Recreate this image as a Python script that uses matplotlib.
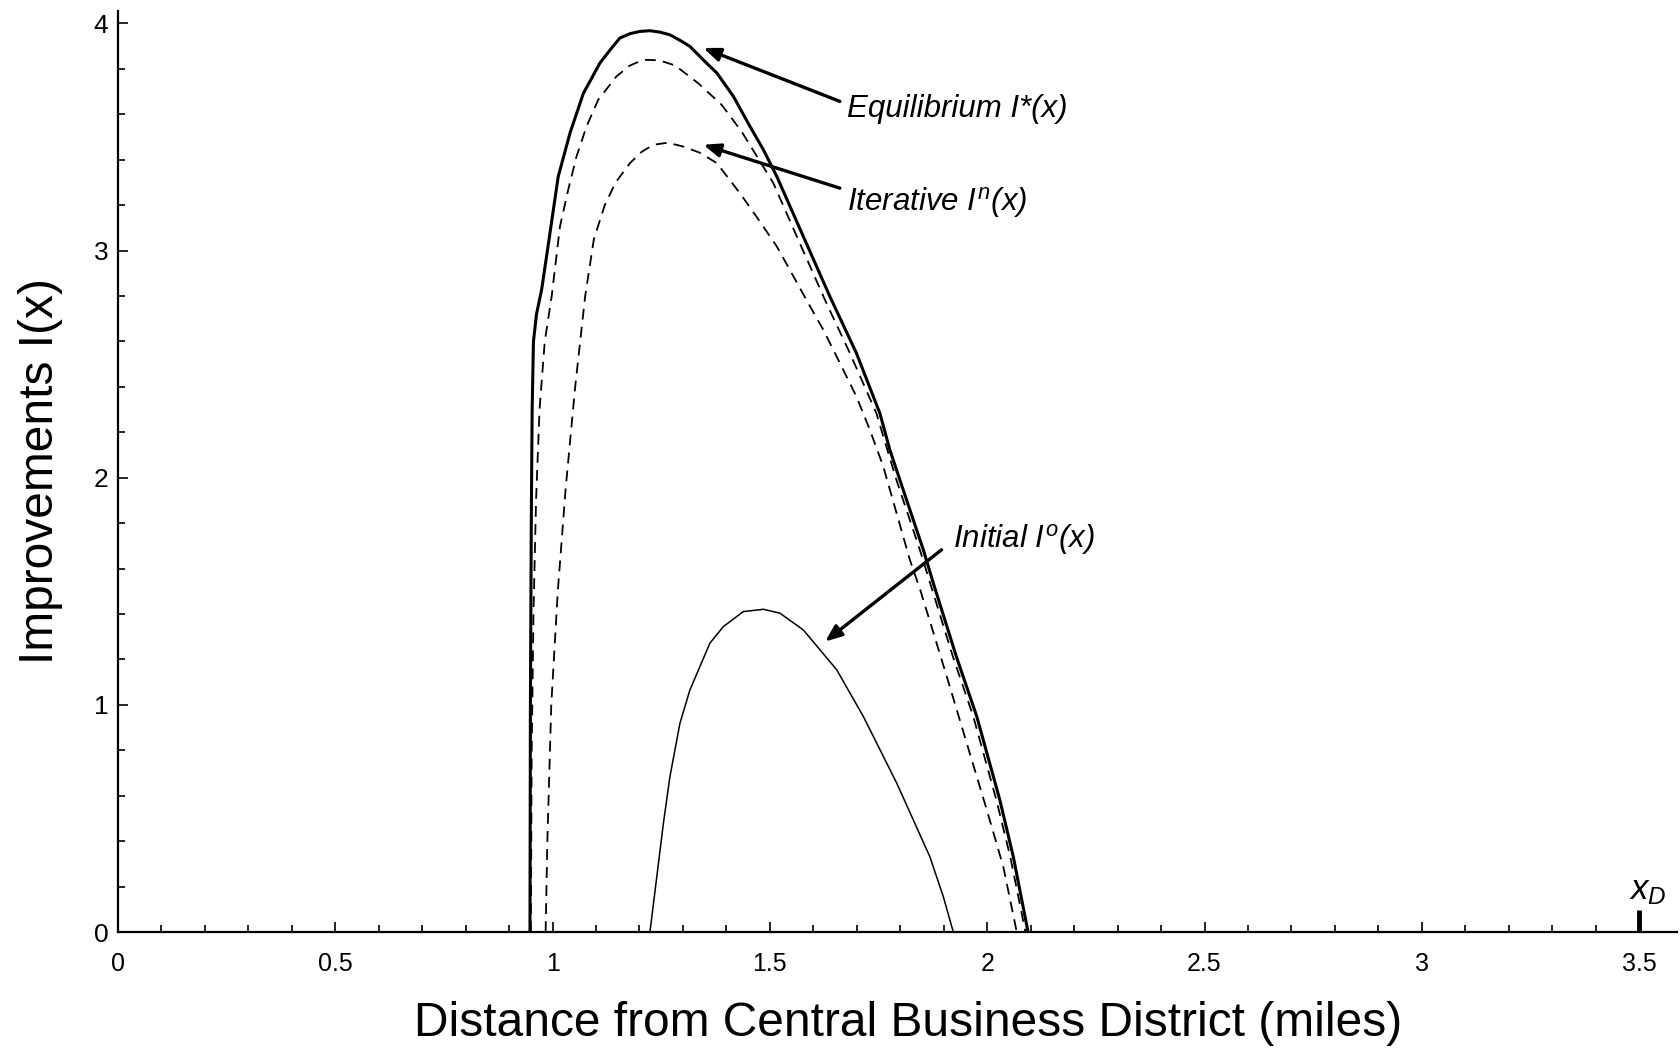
import matplotlib
matplotlib.use('Agg')
import matplotlib.pyplot as plt
from matplotlib.ticker import MultipleLocator, FuncFormatter

plt.rcParams['font.family'] = ['Liberation Sans', 'DejaVu Sans']
plt.rcParams['mathtext.fontset'] = 'custom'
plt.rcParams['mathtext.rm'] = 'Liberation Sans'
plt.rcParams['mathtext.it'] = 'Liberation Sans:italic'

# equilibrium I*(x), solid
eq_x = [0.948, 0.949, 0.951, 0.953, 0.956, 0.963, 0.975, 0.994, 1.013, 1.040,
        1.071, 1.109, 1.135, 1.155, 1.178, 1.201, 1.224, 1.247, 1.270, 1.293,
        1.316, 1.354, 1.378, 1.416, 1.450, 1.485, 1.516, 1.577, 1.638, 1.699,
        1.753, 1.776, 1.799, 1.853, 1.876, 1.929, 1.976, 2.029, 2.060, 2.094]
eq_y = [0.0, 1.0, 1.8, 2.3, 2.6, 2.72, 2.83, 3.077, 3.326, 3.517,
        3.693, 3.826, 3.89, 3.936, 3.955, 3.965, 3.968, 3.962, 3.950, 3.926,
        3.899, 3.826, 3.782, 3.679, 3.561, 3.444, 3.326, 3.062, 2.798, 2.549,
        2.284, 2.123, 1.991, 1.683, 1.536, 1.213, 0.949, 0.582, 0.332, 0.0]

# iterative I^n(x), the later iteration (close to equilibrium)
it2_x = [0.950, 0.952, 0.956, 0.962, 0.970, 0.982, 0.998, 1.017, 1.036, 1.055,
         1.078, 1.105, 1.147, 1.178, 1.209, 1.245, 1.282, 1.335, 1.389, 1.435,
         1.508, 1.562, 1.630, 1.684, 1.745, 1.791, 1.845, 1.921, 1.968, 2.021,
         2.053, 2.088]
it2_y = [0.0, 0.8, 1.4, 1.9, 2.3, 2.6, 2.80, 3.106, 3.268, 3.414,
         3.546, 3.664, 3.767, 3.815, 3.840, 3.838, 3.815, 3.737, 3.642, 3.524,
         3.297, 3.062, 2.769, 2.549, 2.284, 1.991, 1.683, 1.213, 0.949, 0.582,
         0.332, 0.0]

# iterative I^n(x), the earlier iteration
it1_x = [0.984, 0.988, 0.997, 1.012, 1.030, 1.052, 1.075, 1.095, 1.120, 1.145,
         1.178, 1.205, 1.232, 1.265, 1.301, 1.340, 1.378, 1.431, 1.469, 1.516,
         1.546, 1.584, 1.623, 1.661, 1.699, 1.730, 1.761, 1.822, 1.846, 1.907,
         1.953, 1.999, 2.037, 2.068]
it1_y = [0.0, 0.4, 1.0, 1.5, 1.95, 2.4, 2.8, 3.05, 3.2, 3.3,
         3.385, 3.435, 3.466, 3.475, 3.458, 3.43, 3.385, 3.253, 3.150, 3.018,
         2.915, 2.783, 2.651, 2.505, 2.358, 2.211, 2.049, 1.639, 1.506, 1.125,
         0.831, 0.538, 0.288, 0.0]

# initial I^o(x)
init_x = [1.224, 1.236, 1.255, 1.270, 1.293, 1.316, 1.362, 1.393, 1.439, 1.485,
          1.523, 1.577, 1.654, 1.715, 1.792, 1.868, 1.899, 1.922]
init_y = [0.0, 0.185, 0.479, 0.684, 0.919, 1.066, 1.272, 1.345, 1.411, 1.421,
          1.404, 1.330, 1.154, 0.949, 0.655, 0.332, 0.156, 0.0]

x_d = 3.5
x_d_height = 0.095

fig = plt.figure(figsize=(16.8, 10.52), dpi=100)
ax = fig.add_axes([0.0702, 0.114, 0.928, 0.876])

ax.plot(eq_x, eq_y, color='black', lw=2.2, zorder=4)
ax.plot(it2_x, it2_y, color='black', lw=1.3, dashes=(6, 4), zorder=3)
ax.plot(it1_x, it1_y, color='black', lw=1.3, dashes=(6, 4), zorder=3)
ax.plot(init_x, init_y, color='black', lw=1.1, zorder=3)
ax.vlines(x_d, 0, x_d_height, color='black', lw=3.5)
ax.text(x_d + 0.02, 0.11, r'$x_D$', fontsize=25, ha='center', va='bottom')

arrow = dict(arrowstyle='-|>,head_length=0.5,head_width=0.2', color='black',
             lw=2.4, mutation_scale=20, shrinkA=0, shrinkB=0)
ax.annotate('', xy=(1.347, 3.892), xytext=(1.661, 3.657), arrowprops=arrow)
ax.annotate('', xy=(1.347, 3.466), xytext=(1.661, 3.275), arrowprops=arrow)
ax.annotate('', xy=(1.627, 1.279), xytext=(1.895, 1.683), arrowprops=arrow)

ax.text(1.677, 3.59, 'Equilibrium I*(x)', fontsize=22.5, style='italic',
        va='baseline', ha='left')
ax.text(1.677, 3.177, r'Iterative $I^n$(x)', fontsize=22.5, style='italic',
        va='baseline', ha='left')
ax.text(1.922, 1.69, r'Initial $I^o$(x)', fontsize=22.5, style='italic',
        va='baseline', ha='left')

ax.set_xlim(0, 3.587)
ax.set_ylim(0, 4.057)
ax.spines['top'].set_visible(False)
ax.spines['right'].set_visible(False)
for s in ('left', 'bottom'):
    ax.spines[s].set_linewidth(1.6)

ax.xaxis.set_major_locator(MultipleLocator(0.5))
ax.xaxis.set_minor_locator(MultipleLocator(0.1))
ax.yaxis.set_major_locator(MultipleLocator(1))
ax.yaxis.set_minor_locator(MultipleLocator(0.2))
ax.xaxis.set_major_formatter(FuncFormatter(lambda v, p: f'{v:g}'))
ax.yaxis.set_major_formatter(FuncFormatter(lambda v, p: f'{v:g}'))
ax.tick_params(which='both', direction='in', top=False, right=False, width=1.2)
ax.tick_params(which='major', length=7.5)
ax.tick_params(which='minor', length=4.8)
ax.tick_params(axis='x', labelsize=18, pad=14)
ax.tick_params(axis='y', labelsize=19, pad=7)

ax.set_xlabel('Distance from Central Business District (miles)', fontsize=34.5)
ax.xaxis.set_label_coords(0.507, -0.099, transform=ax.transAxes)
ax.xaxis.label.set_va('center')
ax.set_ylabel('Improvements I(x)', fontsize=34.5, labelpad=22)

fig.savefig('out.png', dpi=100)
